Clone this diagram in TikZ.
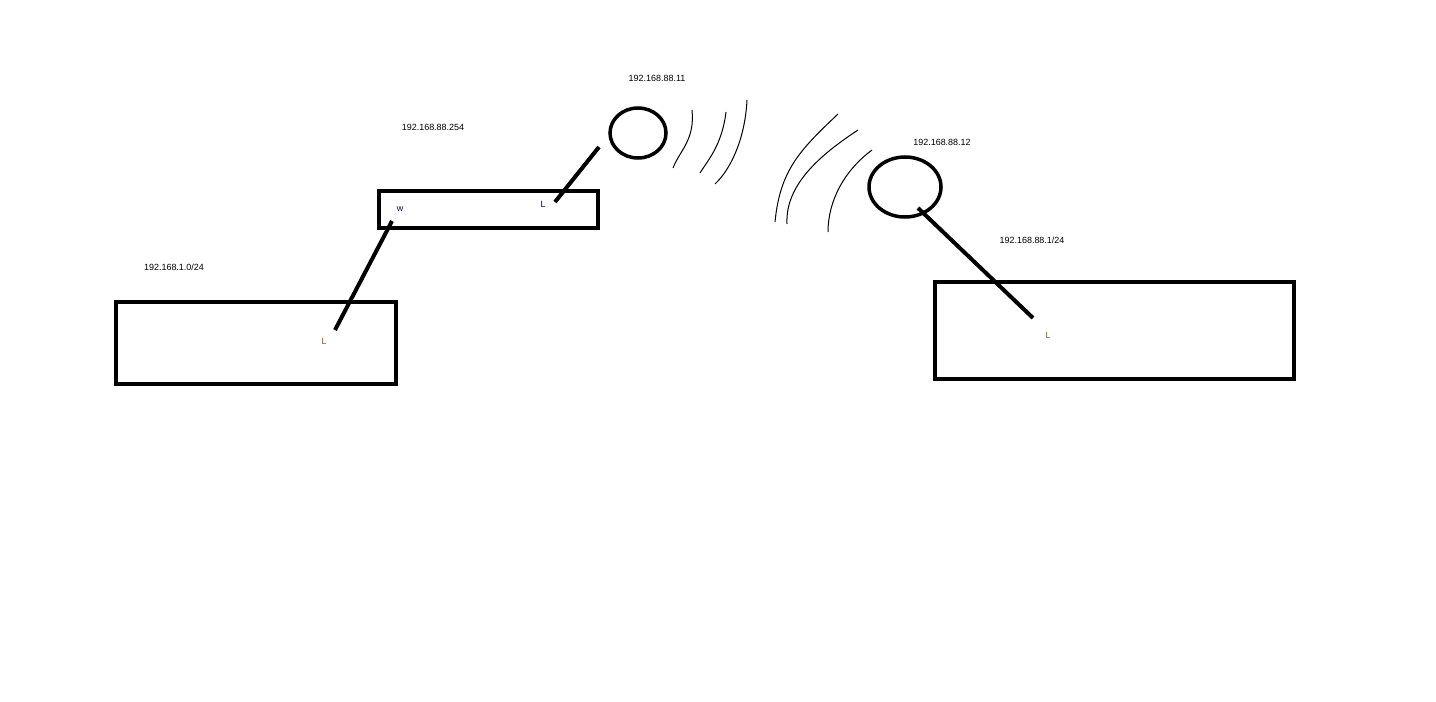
\documentclass[tikz,border=0pt]{standalone}
\usepackage{fontspec}
\setmainfont{Liberation Sans}
\begin{document}
\begin{tikzpicture}[x=1bp,y=-1bp,
  box/.style={draw,line width=4bp},
  link/.style={line width=4bp},
  wave/.style={line width=1bp},
  ip/.style={font=\fontsize{9}{10}\selectfont},
  lbl/.style={font=\fontsize{9}{10}\selectfont,inner sep=0pt}]
\useasboundingbox (0,0) rectangle (1436,702);
\draw[box] (116,302) rectangle (396,384);
\draw[box] (379,191) rectangle (598,228);
\draw[box] (935,282) rectangle (1294,379);
\draw[line width=3.5bp] (638,133) ellipse [x radius=28, y radius=25];
\draw[line width=3.5bp] (905,187) ellipse [x radius=36, y radius=30];
\node[lbl,text=black!70!blue] (w) at (400,209) {w};
\node[lbl,text=black!60!blue] (lm) at (543,204) {L};
\node[lbl,text=brown!70!black] (ll) at (324,341) {L};
\node[lbl,text=brown!70!black] (lr) at (1048,335) {L};
\coordinate (a1) at (335,330); \coordinate (a2) at (392,221);
\coordinate (b1) at (555,202); \coordinate (b2) at (599,147);
\coordinate (c1) at (918,208); \coordinate (c2) at (1033,318);
\draw[link] (a1) -- (a2);
\draw[link] (b1) -- (b2);
\draw[link] (c1) -- (c2);
\draw[wave] (692,110) .. controls (695,140) and (680,150) .. (673,168);
\draw[wave] (726,112) .. controls (722,145) and (708,160) .. (700,173);
\draw[wave] (747,100) .. controls (745,140) and (730,170) .. (715,184);
\draw[wave] (838,114) .. controls (800,150) and (780,170) .. (775,222);
\draw[wave] (858,130) .. controls (820,155) and (785,185) .. (787,224);
\draw[wave] (872,150) .. controls (845,170) and (828,200) .. (828,232);
\node[ip] (t1) at (657,78) {192.168.88.11};
\node[ip] (t2) at (433,127) {192.168.88.254};
\node[ip] (t3) at (942,142) {192.168.88.12};
\node[ip] (t4) at (1032,240) {192.168.88.1/24};
\node[ip] (t5) at (174,267) {192.168.1.0/24};
\end{tikzpicture}
\end{document}
